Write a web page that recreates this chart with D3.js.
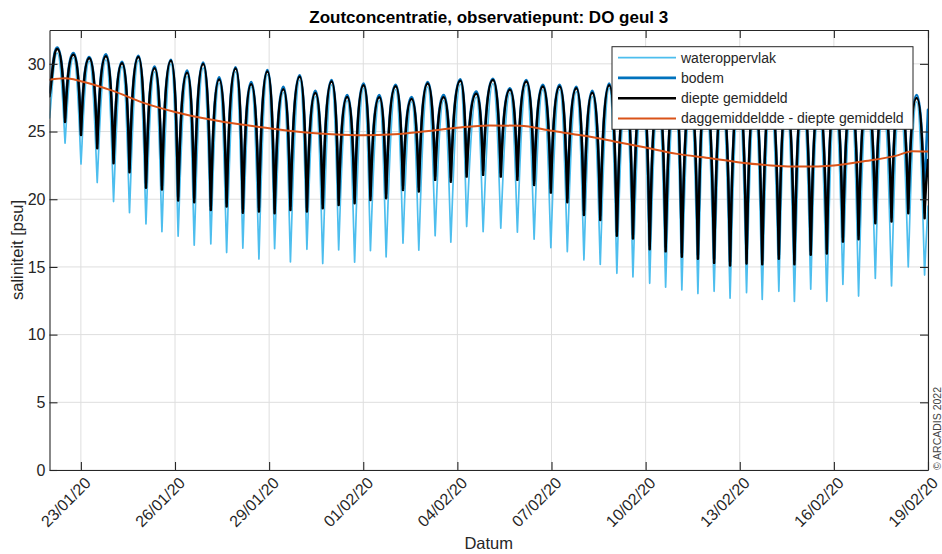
<!DOCTYPE html>
<html>
<head>
<meta charset="utf-8">
<script src="https://cdn.jsdelivr.net/npm/d3@7"></script>
<style>
  html, body { margin: 0; padding: 0; background: #fff; }
  svg { display: block; font-family: "Liberation Sans", Arial, sans-serif; }
</style>
</head>
<body>
<svg id="chart" width="942" height="554"></svg>
<script>
// ---- data -------------------------------------------------------------
const startDate = "2020-01-22 00:00";
const endDate   = "2020-02-19 00:00";
const xTickDates = ["2020-01-23", "2020-01-26", "2020-01-29", "2020-02-01", "2020-02-04",
                    "2020-02-07", "2020-02-10", "2020-02-13", "2020-02-16", "2020-02-19"];
const yTicks = [0, 5, 10, 15, 20, 25, 30];

// hours after 22/01/2020 00:00 of each high-water salinity crest and low-water trough
const peakHours = [5.9, 18.3, 30.4, 43.2, 55.5, 68.0, 80.4, 92.9, 105.3, 117.6,
                   129.8, 142.4, 154.3, 166.7, 178.9, 191.4, 203.4, 215.8, 227.7, 240.3,
                   252.3, 264.8, 277.0, 289.3, 301.5, 314.3, 326.5, 339.2, 352.2, 364.7,
                   377.4, 390.2, 403.0, 415.2, 428.2, 440.7, 453.5, 465.7, 478.4, 490.4,
                   501.9, 514.7, 527.3, 539.4, 551.6, 563.8, 576.3, 588.5, 600.8, 613.3,
                   625.5, 637.8, 650.5, 663.3];
const troughHours = [11.9, 24.1, 36.5, 49.0, 61.2, 73.8, 86.0, 98.4, 110.7, 123.4,
                     135.5, 147.9, 160.2, 172.2, 184.3, 196.9, 209.0, 221.2, 233.4, 245.5,
                     257.5, 270.4, 282.5, 295.0, 307.0, 319.1, 331.7, 345.2, 357.9, 370.7,
                     383.5, 396.1, 408.8, 421.3, 434.0, 446.3, 459.1, 471.3, 483.7, 496.0,
                     508.4, 520.6, 533.2, 545.2, 557.9, 569.8, 582.3, 594.6, 606.9, 618.9,
                     631.7, 644.1, 656.9, 669.4];

// wateroppervlak (surface)
const surfStartEnd = [26.0, 19.5];
const surfPeaks = [30.8, 30.45, 30.2, 30.3, 29.8, 30.25, 29.4, 30.0, 29.1, 29.7,
                   28.6, 29.4, 28.3, 29.2, 27.9, 28.8, 27.6, 28.45, 27.3, 28.2,
                   27.3, 28.1, 27.2, 28.3, 27.3, 28.5, 27.55, 28.55, 27.85, 28.45,
                   28.1, 28.1, 27.95, 27.6, 28.2, 27.6, 28.0, 27.4, 27.9, 27.3,
                   27.7, 27.2, 27.6, 27.1, 27.5, 27.0, 27.3, 26.9, 27.2, 27.0,
                   27.3, 27.1, 27.5, 27.2];
const surfTroughs = [24.14, 22.6, 21.23, 19.83, 19.01, 18.17, 17.6, 17.27, 16.6, 16.7,
                     16.06, 16.38, 15.58, 16.35, 15.37, 16.3, 15.25, 16.26, 15.35, 16.2,
                     15.74, 16.75, 16.23, 17.3, 16.83, 17.98, 17.6, 17.86, 17.57, 17.05,
                     16.42, 16.13, 15.52, 15.18, 14.53, 14.26, 13.79, 13.5, 13.3, 13.03,
                     13.2, 12.69, 13.1, 12.6, 13.2, 12.45, 13.35, 12.46, 13.7, 12.85,
                     14.15, 13.6, 15.0, 14.4];

// bodem (bed)
const bedStartEnd = [27.9, 26.6];
const bedPeaks = [31.2, 30.8, 30.5, 30.7, 30.15, 30.6, 29.8, 30.3, 29.5, 30.1,
                  29.0, 29.75, 28.65, 29.55, 28.3, 29.15, 28.0, 28.8, 27.7, 28.55,
                  27.7, 28.45, 27.55, 28.65, 27.7, 28.85, 27.95, 28.9, 28.2, 28.8,
                  28.45, 28.45, 28.3, 28.0, 28.55, 28.0, 28.4, 27.85, 28.3, 27.75,
                  28.1, 27.65, 28.0, 27.55, 27.9, 27.45, 27.7, 27.35, 27.6, 27.45,
                  27.7, 27.55, 27.9, 27.7];
const bedTroughs = [26.0, 25.0, 24.1, 22.95, 22.3, 21.2, 21.0, 20.2, 20.1, 19.5,
                    19.75, 19.3, 19.4, 19.3, 19.5, 19.4, 19.65, 19.9, 20.0, 20.25,
                    20.4, 21.0, 20.9, 21.7, 21.6, 21.95, 22.1, 21.95, 21.7, 21.35,
                    20.8, 20.1, 19.15, 18.8, 17.6, 17.4, 16.6, 16.5, 16.05, 15.9,
                    15.6, 15.4, 15.55, 15.5, 15.9, 15.5, 16.2, 16.3, 17.2, 17.35,
                    18.5, 18.65, 19.3, 19.0];

// diepte gemiddeld (depth averaged)
const meanStartEnd = [27.6, 22.9];
const meanPeaks = [31.1, 30.67, 30.41, 30.57, 30.05, 30.5, 29.67, 30.22, 29.35, 29.98,
                   28.85, 29.65, 28.5, 29.43, 28.13, 29.04, 27.85, 28.7, 27.55, 28.42,
                   27.53, 28.35, 27.4, 28.55, 27.54, 28.76, 27.8, 28.8, 28.08, 28.7,
                   28.33, 28.33, 28.2, 27.86, 28.42, 27.9, 28.3, 27.7, 28.2, 27.6,
                   28.0, 27.5, 27.9, 27.4, 27.8, 27.3, 27.6, 27.2, 27.5, 27.3,
                   27.6, 27.4, 27.8, 27.47];
const meanTroughs = [25.7, 24.75, 23.77, 22.66, 22.0, 20.85, 20.72, 19.9, 19.78, 19.21,
                     19.46, 19.01, 19.09, 18.97, 19.21, 19.09, 19.34, 19.58, 19.71, 19.95,
                     20.08, 20.69, 20.57, 21.43, 21.3, 21.67, 21.8, 21.67, 21.43, 21.06,
                     20.49, 19.78, 18.84, 18.47, 17.3, 17.1, 16.3, 16.15, 15.75, 15.6,
                     15.3, 15.1, 15.25, 15.2, 15.6, 15.2, 15.9, 16.0, 16.87, 17.05,
                     18.23, 18.35, 18.97, 18.6];

// daily mean of the depth averaged salinity
const dailyHours = [0, 12, 24, 48, 72, 96, 120, 144, 168, 192, 216, 240, 264, 288, 312,
                    336, 360, 384, 408, 432, 456, 480, 504, 528, 552, 576, 600, 624, 648, 660, 672];
const dailyMean = [28.82, 28.93, 28.72, 28.02, 27.12, 26.45, 25.95, 25.55, 25.25, 24.97,
                   24.8, 24.72, 24.8, 25.02, 25.28, 25.45, 25.42, 25.05, 24.7, 24.27,
                   23.82, 23.35, 23.05, 22.72, 22.5, 22.41, 22.5, 22.82, 23.22, 23.55, 23.52];

const seriesNames = ["wateroppervlak", "bodem", "diepte gemiddeld", "daggemiddeldde - diepte gemiddeld"];
const seriesColors = ["#4DBEEE", "#0072BD", "#000000", "#D95319"];

// ---- layout -----------------------------------------------------------
const M = { left: 49.5, right: 928, top: 30, bottom: 470 };
const ink = "#262626";

const parseDT = d3.timeParse("%Y-%m-%d %H:%M");
const parseD = d3.timeParse("%Y-%m-%d");
const t0 = parseDT(startDate), t1 = parseDT(endDate);
const at = h => new Date(t0.getTime() + h * 3600e3);

const x = d3.scaleTime().domain([t0, t1]).range([M.left, M.right]);
const y = d3.scaleLinear().domain([0, 32.5]).range([M.bottom, M.top]);

const svg = d3.select("#chart");

// grid
const grid = svg.append("g").attr("stroke", "#dedede").attr("stroke-width", 1);
xTickDates.map(parseD).forEach(d => {
  grid.append("line").attr("x1", x(d)).attr("x2", x(d)).attr("y1", M.top).attr("y2", M.bottom);
});
yTicks.forEach(v => {
  grid.append("line").attr("x1", M.left).attr("x2", M.right).attr("y1", y(v)).attr("y2", y(v));
});

// series
svg.append("clipPath").attr("id", "plotClip")
  .append("rect").attr("x", M.left).attr("y", M.top)
  .attr("width", M.right - M.left).attr("height", M.bottom - M.top);

function buildSeries(se, peaks, troughs) {
  const pts = [{ t: at(0), v: se[0] }];
  peakHours.forEach((h, i) => {
    pts.push({ t: at(h), v: peaks[i] });
    pts.push({ t: at(troughHours[i]), v: troughs[i] });
  });
  pts.push({ t: t1, v: se[1] });
  return pts;
}

// tidal curve through crests and troughs; the control-point fractions set how
// rounded the crests are and how sharp the troughs are
function archCurve(round, steepX, steepY) {
  return function (context) {
    let pts = [];
    return {
      areaStart() {}, areaEnd() {},
      lineStart() { pts = []; },
      point(px, py) { pts.push([+px, +py]); },
      lineEnd() {
        const n = pts.length;
        if (!n) return;
        const kind = i => {
          if (i === 0 || i === n - 1) return 0;
          if (pts[i][1] < pts[i - 1][1] && pts[i][1] < pts[i + 1][1]) return 1;
          if (pts[i][1] > pts[i - 1][1] && pts[i][1] > pts[i + 1][1]) return -1;
          return 0;
        };
        context.moveTo(pts[0][0], pts[0][1]);
        for (let i = 1; i < n; i++) {
          const [x0, y0] = pts[i - 1], [x1, y1] = pts[i];
          const dx = x1 - x0, dy = y1 - y0;
          const k0 = kind(i - 1), k1 = kind(i);
          let c1x, c1y, c2x, c2y;
          if (k0 === 1) { c1x = x0 + round * dx; c1y = y0; }
          else if (k0 === -1) { c1x = x0 + steepX * dx; c1y = y0 + steepY * dy; }
          else { c1x = x0 + dx / 3; c1y = y0 + dy / 3; }
          if (k1 === 1) { c2x = x1 - round * dx; c2y = y1; }
          else if (k1 === -1) { c2x = x1 - steepX * dx; c2y = y1 - steepY * dy; }
          else { c2x = x1 - dx / 3; c2y = y1 - dy / 3; }
          context.bezierCurveTo(c1x, c1y, c2x, c2y, x1, y1);
        }
      }
    };
  };
}

const plot = svg.append("g").attr("clip-path", "url(#plotClip)").attr("fill", "none")
  .attr("stroke-linejoin", "round").attr("stroke-linecap", "round");

const tideLine = (curve) => d3.line().x(d => x(d.t)).y(d => y(d.v)).curve(curve);

plot.append("path")
  .attr("d", tideLine(archCurve(0.48, 0.22, 0.32))(buildSeries(surfStartEnd, surfPeaks, surfTroughs)))
  .attr("stroke", seriesColors[0]).attr("stroke-width", 1.7);
plot.append("path")
  .attr("d", tideLine(archCurve(0.5, 0.22, 0.6))(buildSeries(bedStartEnd, bedPeaks, bedTroughs)))
  .attr("stroke", seriesColors[1]).attr("stroke-width", 2.6);
plot.append("path")
  .attr("d", tideLine(archCurve(0.5, 0.22, 0.6))(buildSeries(meanStartEnd, meanPeaks, meanTroughs)))
  .attr("stroke", seriesColors[2]).attr("stroke-width", 2.5);

const daily = dailyHours.map((h, i) => ({ t: at(h), v: dailyMean[i] }));
plot.append("path")
  .attr("d", d3.line().x(d => x(d.t)).y(d => y(d.v)).curve(d3.curveMonotoneX)(daily))
  .attr("stroke", seriesColors[3]).attr("stroke-width", 2);

// axes (box with inward ticks)
const tickLen = 8;
const xTicks = xTickDates.map(parseD);
const axB = d3.axisBottom(x).tickValues(xTicks).tickSize(-tickLen).tickSizeOuter(0).tickFormat("");
const axT = d3.axisTop(x).tickValues(xTicks).tickSize(-tickLen).tickSizeOuter(0).tickFormat("");
const axL = d3.axisLeft(y).tickValues(yTicks).tickSize(-tickLen).tickSizeOuter(0).tickFormat("");
const axR = d3.axisRight(y).tickValues(yTicks).tickSize(-tickLen).tickSizeOuter(0).tickFormat("");

function styleAxis(g) {
  g.selectAll("path,line").attr("stroke", ink).attr("stroke-width", 1.1);
}
svg.append("g").attr("transform", `translate(0,${M.bottom})`).call(axB).call(styleAxis);
svg.append("g").attr("transform", `translate(0,${M.top})`).call(axT).call(styleAxis);
svg.append("g").attr("transform", `translate(${M.left},0)`).call(axL).call(styleAxis);
svg.append("g").attr("transform", `translate(${M.right},0)`).call(axR).call(styleAxis);

// tick labels
const fmt = d3.timeFormat("%d/%m/%y");
svg.append("g").selectAll("text").data(xTicks).join("text")
  .attr("transform", d => `translate(${x(d) + 11},${M.bottom + 14}) rotate(-45)`)
  .attr("text-anchor", "end")
  .attr("font-size", 16).attr("fill", ink)
  .text(d => fmt(d));

svg.append("g").selectAll("text").data(yTicks).join("text")
  .attr("x", M.left - 4).attr("y", d => y(d))
  .attr("dy", "0.36em")
  .attr("text-anchor", "end")
  .attr("font-size", 16).attr("fill", ink)
  .text(d => d);

// titles
svg.append("text")
  .attr("x", (M.left + M.right) / 2).attr("y", 22.5)
  .attr("text-anchor", "middle").attr("font-weight", "bold")
  .attr("font-size", 17).attr("fill", "#000")
  .text("Zoutconcentratie, observatiepunt: DO geul 3");

svg.append("text")
  .attr("x", (M.left + M.right) / 2).attr("y", 549)
  .attr("text-anchor", "middle").attr("font-size", 16.5).attr("fill", ink)
  .text("Datum");

svg.append("text")
  .attr("transform", `translate(23,${(M.top + M.bottom) / 2}) rotate(-90)`)
  .attr("text-anchor", "middle").attr("font-size", 16.5).attr("fill", ink)
  .text("saliniteit [psu]");

svg.append("text")
  .attr("transform", `translate(941,470) rotate(-90)`)
  .attr("text-anchor", "start").attr("font-size", 10.5).attr("fill", "#444")
  .text("© ARCADIS 2022");

// legend
const lg = svg.append("g");
lg.append("rect").attr("x", 612).attr("y", 46.7).attr("width", 301).attr("height", 82.6)
  .attr("fill", "#fff").attr("stroke", ink).attr("stroke-width", 1);
const rowY = [57.7, 77.9, 98.2, 118.4];
const lgWidths = [1.7, 2.6, 2.5, 2];
seriesNames.forEach((name, i) => {
  lg.append("line").attr("x1", 618).attr("x2", 676).attr("y1", rowY[i]).attr("y2", rowY[i])
    .attr("stroke", seriesColors[i]).attr("stroke-width", lgWidths[i]);
  lg.append("text").attr("x", 681).attr("y", rowY[i]).attr("dy", "0.36em")
    .attr("font-size", 14).attr("fill", ink).text(name);
});
</script>
</body>
</html>
